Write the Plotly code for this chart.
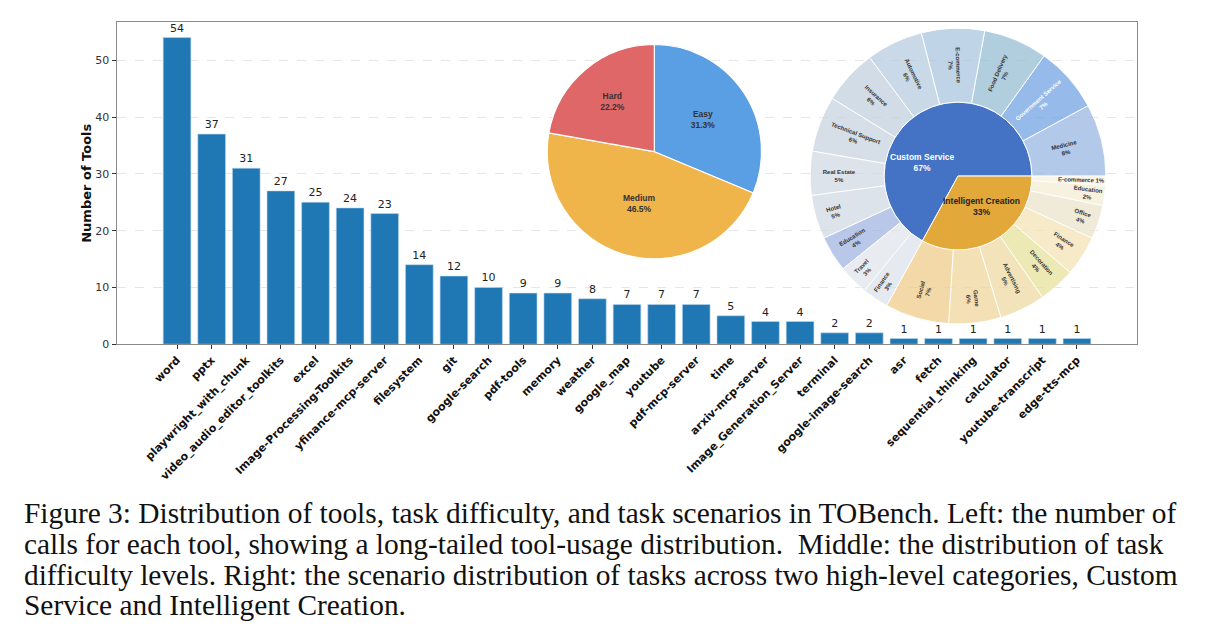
import plotly.graph_objects as go

W, H = 1219, 644

# ---------------- data ----------------
tools = ["word", "pptx", "playwright_with_chunk", "video_audio_editor_toolkits", "excel",
         "Image-Processing-Toolkits", "yfinance-mcp-server", "filesystem", "git", "google-search",
         "pdf-tools", "memory", "weather", "google_map", "youtube", "pdf-mcp-server", "time",
         "arxiv-mcp-server", "Image_Generation_Server", "terminal", "google-image-search", "asr",
         "fetch", "sequential_thinking", "calculator", "youtube-transcript", "edge-tts-mcp"]
tool_counts = [54, 37, 31, 27, 25, 24, 23, 14, 12, 10, 9, 9, 8, 7, 7, 7, 5, 4, 4, 2, 2, 1, 1, 1, 1, 1, 1]
y_ticks = [0, 10, 20, 30, 40, 50]

difficulty = ["Easy", "Medium", "Hard"]
difficulty_pct = [31.3, 46.5, 22.2]
difficulty_colors = ["#5a9fe3", "#f0b54a", "#e06767"]

cs_name = "Custom Service"
ic_name = "Intelligent Creation"
cs_scenarios = ["Medicine", "Government Service", "Food Delivery", "E-commerce", "Automotive",
                "Insurance", "Technical Support", "Real Estate", "Hotel", "Education", "Travel", "Finance"]
cs_values = [79, 72, 70, 69, 62, 60, 61, 48, 48, 39, 33, 29]
cs_colors = ["#93b3e1", "#6a9de2", "#8fbad1", "#a5c4de", "#b3cade", "#bfcedd", "#c6d2de",
             "#cfd8e3", "#d0d8e3", "#9cb1df", "#dfe3ea", "#dbe1ea"]
ic_scenarios = ["Social", "Game", "Advertising", "Decoration", "Finance", "Office", "Education", "E-commerce"]
ic_values = [70, 57, 50, 40, 44, 37, 22, 10]
ic_colors = ["#efca82", "#f0d497", "#efd89f", "#e5e096", "#f4e2b3", "#ebe2c8", "#f5ecd3", "#f8f1dd"]
cs_color, ic_color = "#4472c4", "#e3a83a"

caption_lines = [
    "Figure 3: Distribution of tools, task difficulty, and task scenarios in TOBench. Left: the number of",
    "calls for each tool, showing a long-tailed tool-usage distribution.  Middle: the distribution of task",
    "difficulty levels. Right: the scenario distribution of tasks across two high-level categories, Custom",
    "Service and Intelligent Creation.",
]

# ---------------- figure ----------------
fig = go.Figure()

fig.add_trace(go.Bar(
    x=list(range(len(tools))), y=tool_counts, width=0.8,
    marker=dict(color="#1f77b4", line=dict(color="#bcd6ee", width=0.6)),
    text=[str(v) for v in tool_counts], textposition="outside",
    textfont=dict(family="DejaVu Sans", size=11, color="#222"),
    cliponaxis=False, showlegend=False,
))


def px_x(p):
    return p / W


def px_y(p):
    return 1 - p / H


fig.update_xaxes(
    domain=[px_x(116.7), px_x(1137.3)], range=[-1.743, 27.743],
    tickmode="array", tickvals=list(range(len(tools))),
    ticktext=["<b>%s</b>" % t for t in tools], tickangle=-45,
    tickfont=dict(family="DejaVu Sans", size=11, color="#111"),
    ticks="outside", ticklen=4, tickcolor="#333",
    showline=True, linecolor="#8a8a8a", linewidth=1.3, mirror=True,
    showgrid=False, zeroline=False,
)
fig.update_yaxes(
    domain=[px_y(348), px_y(22.5)], range=[0, 56.7],
    tickmode="array", tickvals=y_ticks,
    tickfont=dict(family="DejaVu Sans", size=11, color="#333"),
    ticks="outside", ticklen=4, tickcolor="#333",
    showline=True, linecolor="#8a8a8a", linewidth=1.3, mirror=True,
    showgrid=True, gridcolor="#e6e6e6", griddash="dash", gridwidth=0.8,
    zeroline=False,
    title=dict(text="<b>Number of Tools</b>", font=dict(family="DejaVu Sans", size=13, color="#111"),
               standoff=0),
)

# pie (difficulty)
fig.add_trace(go.Pie(
    labels=difficulty, values=difficulty_pct, sort=False, direction="clockwise", rotation=0,
    marker=dict(colors=difficulty_colors, line=dict(color="white", width=1.2)),
    texttemplate="<b>%{label}</b><br><b>%{percent:.1%}</b>", textposition="inside",
    insidetextorientation="horizontal",
    textfont=dict(family="Liberation Sans", size=8.5, color="#333"),
    domain=dict(x=[px_x(546), px_x(762.7)], y=[px_y(261.7), px_y(45)]),
    showlegend=False, hoverinfo="label+percent",
))

# sunburst (scenarios)
total = sum(cs_values) + sum(ic_values)
ids, labels, parents, values, colors, texts, tcolors = [], [], [], [], [], [], []
for name, kids, vals, col, kcols in [(cs_name, cs_scenarios, cs_values, cs_color, cs_colors),
                                     (ic_name, ic_scenarios, ic_values, ic_color, ic_colors)]:
    ids.append(name); labels.append(name); parents.append(""); values.append(sum(vals))
    colors.append(col); texts.append(""); tcolors.append("#333")
    for k, v, c in zip(kids, vals, kcols):
        ids.append(name + "/" + k); labels.append(k); parents.append(name); values.append(v)
        colors.append(c)
        pct = round(v / total * 100)
        sep = " " if v / total < 0.015 else "<br>"
        texts.append("<b>%s</b>%s<b>%d%%</b>" % (k, sep, pct))
        tcolors.append("white" if k == "Government Service" and name == cs_name else "#333")

fig.add_trace(go.Sunburst(
    ids=ids, labels=labels, parents=parents, values=values, branchvalues="total",
    sort=False, rotation=0,
    marker=dict(colors=colors, line=dict(color="white", width=1)),
    text=texts, textinfo="text", insidetextorientation="radial",
    insidetextfont=dict(family="Liberation Sans", size=6, color=tcolors),
    domain=dict(x=[px_x(808.5), px_x(1107.5)], y=[px_y(327.5), px_y(28.5)]),
    hoverinfo="label+value",
))

annotations = [
    dict(text="<b>%s</b><br><b>%d%%</b>" % (cs_name, round(sum(cs_values) / total * 100)),
         x=px_x(922), y=px_y(164), xref="paper", yref="paper", showarrow=False,
         xanchor="center", yanchor="middle",
         font=dict(family="Liberation Sans", size=8.5, color="white")),
    dict(text="<b>%s</b><br><b>%d%%</b>" % (ic_name, round(sum(ic_values) / total * 100)),
         x=px_x(981), y=px_y(209), xref="paper", yref="paper", showarrow=False,
         xanchor="center", yanchor="middle",
         font=dict(family="Liberation Sans", size=8.5, color="#222")),
]
for i, line in enumerate(caption_lines):
    annotations.append(dict(
        text=line, x=px_x(22), y=px_y(519 + i * 31), xref="paper", yref="paper",
        xanchor="left", yanchor="middle", showarrow=False,
        font=dict(family="Liberation Serif", size=29.4, color="#111"),
    ))

fig.update_layout(
    width=W, height=H, margin=dict(l=0, r=0, t=0, b=0),
    paper_bgcolor="white", plot_bgcolor="white",
    showlegend=False, annotations=annotations, bargap=0.2,
)

fig.write_html("out.html")
